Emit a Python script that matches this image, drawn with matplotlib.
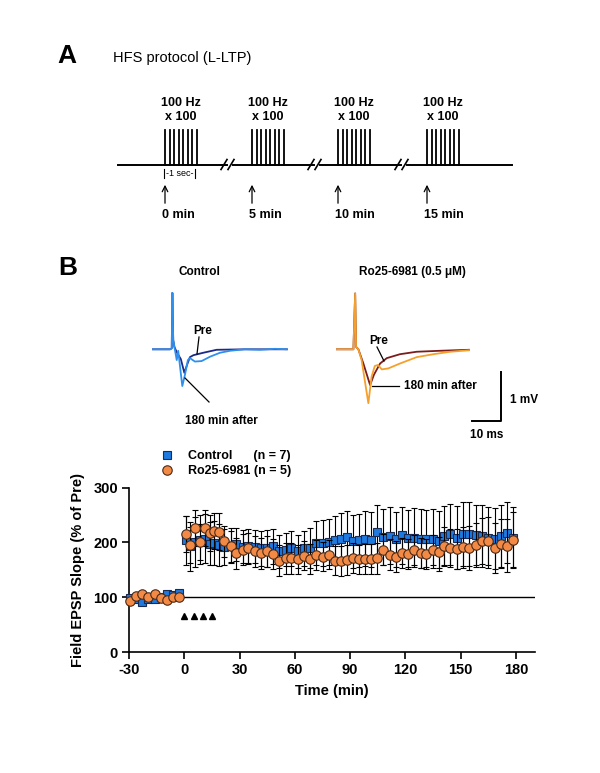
import matplotlib
matplotlib.use("Agg")
import matplotlib.pyplot as plt

plt.rcParams['font.family'] = ['Liberation Sans', 'DejaVu Sans']
plt.rcParams['axes.unicode_minus'] = False

W, H = 600, 773

# ---------------- data: field EPSP slope ----------------
time_pre = [-29.4, -26.2, -22.9, -19.5, -16.1, -12.6, -9.4, -6.0, -2.7]
ctrl_pre = [98, 96, 92, 96, 97, 101, 106, 104, 108]
ro_pre = [93, 103, 105, 101, 105, 98, 95, 101, 101]
ctrl_pre_err = [3, 3, 3, 3, 3, 3, 3, 3, 3]
ro_pre_err = [3, 3, 3, 3, 3, 3, 3, 3, 3]

time_post = [0.9, 3.2, 6.0, 8.5, 11.2, 13.7, 16.2, 18.8, 21.7, 25.3,
             28.3, 31.6, 34.8, 38.3, 41.5, 44.8, 48.2, 51.6, 55.0, 58.0,
             61.7, 65.0, 68.2, 71.7, 75.0, 78.3, 81.6, 84.8, 88.3, 91.5,
             94.8, 98.0, 101.4, 104.7, 108.0, 111.4, 115.0, 118.0, 121.5, 124.7,
             128.2, 131.4, 134.7, 138.0, 141.0, 144.4, 148.0, 151.3, 154.7, 158.0,
             161.5, 165.0, 168.4, 171.8, 175.0, 178.5]
ctrl_post = [204, 193, 201, 205, 207, 198, 199, 195, 191, 194,
             197, 192, 193, 192, 189, 189, 193, 184, 187, 189,
             184, 189, 190, 199, 199, 201, 205, 207, 210, 202,
             204, 207, 205, 219, 210, 212, 206, 213, 208, 209,
             207, 207, 207, 203, 212, 215, 209, 215, 215, 213,
             212, 209, 207, 212, 218, 209]
ro_post = [215, 195, 227, 201, 227, 218, 221, 220, 202, 193,
           180, 187, 189, 184, 180, 184, 179, 167, 171, 171,
           169, 176, 170, 177, 174, 178, 167, 166, 168, 172,
           169, 170, 170, 171, 187, 178, 174, 181, 179, 186,
           181, 179, 186, 182, 193, 190, 188, 191, 190, 196,
           203, 202, 190, 198, 194, 205]
ctrl_post_err = [45, 45, 45, 45, 45, 40, 40, 38, 33, 32,
                 30, 30, 31, 30, 32, 33, 32, 30, 30, 32,
                 30, 32, 36, 40, 42, 42, 44, 46, 48, 48,
                 48, 50, 50, 50, 52, 52, 50, 52, 52, 54,
                 54, 52, 54, 55, 55, 56, 58, 58, 58, 55,
                 56, 56, 56, 56, 56, 56]
ro_post_err = [33, 33, 33, 33, 33, 33, 33, 33, 28, 28,
               28, 28, 28, 28, 28, 28, 28, 28, 28, 28,
               27, 27, 27, 27, 27, 27, 27, 27, 27, 27,
               27, 27, 28, 28, 28, 28, 28, 28, 28, 28,
               28, 28, 28, 28, 35, 35, 36, 38, 40, 40,
               42, 44, 45, 45, 48, 50]
hfs_times = [0, 5, 10, 15]
hfs_marker_level = 66

xticks = [-30, 0, 30, 60, 90, 120, 150, 180]
yticks = [0, 100, 200, 300]

# ---------------- data: example traces (ms, mV) ----------------
ctrl_post_t = [0, 5.8, 6.4, 6.6, 6.9, 7.3, 8.1, 8.6, 10.0, 10.9, 11.9, 12.6, 14.3,
               16.6, 19.5, 22.9, 26.3, 31.4, 36.5, 41.6, 45.7]
ctrl_post_v = [0, 0, 0.02, 1.15, 0.19, 0.05, -0.22, -0.03, -0.75, -0.52, -0.22, -0.18, -0.25,
               -0.24, -0.15, -0.07, -0.03, 0.0, -0.01, 0.01, 0.0]
ctrl_pre_t = [0, 5.8, 6.4, 6.6, 6.9, 7.3, 8.1, 9.5, 10.7, 11.6, 12.6, 13.8, 17.2, 21.7,
              31.4, 45.7]
ctrl_pre_v = [0, 0, 0.02, 1.15, 0.19, 0.05, -0.06, -0.2, -0.48, -0.32, -0.16, -0.12, -0.07,
              -0.01, 0.0, 0.0]
ro_post_t = [0, 5.6, 6.2, 6.5, 7.3, 8.4, 10.7, 11.8, 12.9, 14.0, 15.3, 17.5, 21.5, 27.2,
             32.9, 38.6, 45.0]
ro_post_v = [0, 0, 1.14, 0.05, 0.0, -0.22, -1.1, -0.56, -0.34, -0.32, -0.41, -0.39, -0.29,
             -0.16, -0.1, -0.05, -0.02]
ro_pre_t = [0, 5.6, 6.2, 6.5, 7.3, 9.0, 11.3, 12.6, 14.7, 17.0, 21.5, 27.2, 35.2, 45.0]
ro_pre_v = [0, 0, 1.14, 0.05, 0.0, -0.29, -0.73, -0.52, -0.29, -0.18, -0.1, -0.05, -0.03, -0.01]

blue_fill = '#1f7ae0'
orange_fill = '#f28a45'

fig = plt.figure(figsize=(W / 100, H / 100), dpi=100)

# ---------------- main plot ----------------
ax = fig.add_axes([129 / W, 1 - 652 / H, (534.5 - 129) / W, (652 - 487.7) / H])
ax.set_xlim(-30, 190)
ax.set_ylim(0, 300)
ax.hlines(100, -30, 190, color='black', lw=1.0, zorder=1)

ctrl_t = time_pre + time_post
ctrl_y = ctrl_pre + ctrl_post
ctrl_e = ctrl_pre_err + ctrl_post_err
ro_y = ro_pre + ro_post
ro_e = ro_pre_err + ro_post_err

ax.errorbar(ctrl_t, ctrl_y, yerr=ctrl_e, fmt='s', ms=6.3, mfc=blue_fill, mec='#1a2a50',
            mew=0.8, ecolor='black', elinewidth=0.8, capsize=2.5, capthick=0.8,
            zorder=3, clip_on=False, label='Control      (n = 7)')
ax.errorbar(ctrl_t, ro_y, yerr=ro_e, fmt='o', ms=6.8, mfc=orange_fill, mec='#4a2a1a',
            mew=0.8, ecolor='black', elinewidth=0.8, capsize=2.5, capthick=0.8,
            zorder=4, clip_on=False, label='Ro25-6981 (n = 5)')
ax.plot(hfs_times, [hfs_marker_level] * len(hfs_times), '^', color='black', ms=3.8,
        linestyle='none', zorder=5)

ax.set_xticks(xticks)
ax.set_yticks(yticks)
for s in ['top', 'right']:
    ax.spines[s].set_visible(False)
for s in ['left', 'bottom']:
    ax.spines[s].set_linewidth(1.2)
ax.tick_params(direction='out', length=5, width=1.2, labelsize=10.5, pad=3)
for lab in ax.get_xticklabels() + ax.get_yticklabels():
    lab.set_fontweight('bold')
ax.set_xlabel('Time (min)', fontsize=10.5, fontweight='bold', labelpad=5)
ax.set_ylabel('Field EPSP Slope (% of Pre)', fontsize=10.5, fontweight='bold', labelpad=6)

handles, labels = ax.get_legend_handles_labels()
handles = [h[0] for h in handles]
leg = fig.legend(handles, labels, loc='upper left',
                 bbox_to_anchor=(161 / W, 1 - 450 / H), frameon=False,
                 prop={'weight': 'bold', 'size': 9}, handletextpad=1.2,
                 labelspacing=0.25, handlelength=1.0, borderaxespad=0, borderpad=0)

# ---------------- example traces ----------------
PX_MS = 2.93
PX_MV = 49.0
BASE = 349.3


def trace_axes(x0, tmax, vmin, vmax):
    left = x0
    width = tmax * PX_MS
    top = BASE - vmax * PX_MV
    height = (vmax - vmin) * PX_MV
    a = fig.add_axes([left / W, 1 - (top + height) / H, width / W, height / H])
    a.set_xlim(0, tmax)
    a.set_ylim(vmin, vmax)
    a.axis('off')
    return a


axc = trace_axes(153, 46, -1.3, 1.3)
axc.plot(ctrl_pre_t, ctrl_pre_v, color='#1c2a86', lw=1.3, clip_on=False)
axc.plot(ctrl_post_t, ctrl_post_v, color='#2e90ee', lw=1.3, clip_on=False)

axr = trace_axes(337, 62, -1.6, 1.3)
axr.plot(ro_pre_t, ro_pre_v, color='#7a1c1c', lw=1.3, clip_on=False)
axr.plot(ro_post_t, ro_post_v, color='#f5a02a', lw=1.3, clip_on=False)
# scale bar: 1 mV, 10 ms
axr.plot([46, 56, 56], [-1.46, -1.46, -0.46], color='black', lw=1.4, clip_on=False)

# ---------------- overlay for schematic & annotations ----------------
ov = fig.add_axes([0, 0, 1, 1])
ov.set_xlim(0, W)
ov.set_ylim(H, 0)
ov.axis('off')

ov.text(57, 56, 'A', fontsize=19, fontweight='bold', va='center', ha='left')
ov.text(113, 58, 'HFS protocol (L-LTP)', fontsize=10.5, va='center', ha='left')

# baseline with break marks
base_y = 164.5
segs = [(118, 227), (233, 314), (320, 401), (407, 512)]
for a0, a1 in segs:
    ov.plot([a0, a1], [base_y, base_y], color='black', lw=1.4)
for bx in [224, 311, 398]:
    for dx in [0, 7]:
        ov.plot([bx + dx - 3, bx + dx + 3], [base_y + 5, base_y - 5], color='black', lw=1.2)

group_starts = [165, 252, 338, 427]
labels_min = ['0 min', '5 min', '10 min', '15 min']
for gx, lbl in zip(group_starts, labels_min):
    for k in range(8):
        xx = gx + k * 4.5
        ov.plot([xx, xx], [base_y, 129.5], color='black', lw=1.3)
    cx = gx + 16
    ov.text(cx, 103, '100 Hz', fontsize=9, fontweight='bold', ha='center', va='center')
    ov.text(cx, 117, 'x 100', fontsize=9, fontweight='bold', ha='center', va='center')
    ov.annotate('', xy=(gx, 182), xytext=(gx, 206),
                arrowprops=dict(arrowstyle='->', color='black', lw=0.9))
    ov.text(gx - 3, 215, lbl, fontsize=9, fontweight='bold', ha='left', va='center')

ov.plot([164, 164], [168.5, 178], color='black', lw=0.8)
ov.plot([195, 195], [168.5, 178], color='black', lw=0.8)
ov.text(179.5, 173.5, '-1 sec-', fontsize=6.5, ha='center', va='center')

ov.text(58, 268, 'B', fontsize=19, fontweight='bold', va='center', ha='left')
ov.text(199, 272, 'Control', fontsize=8.5, fontweight='bold', ha='center', va='center')
ov.text(412, 272, 'Ro25-6981 (0.5 \u03bcM)', fontsize=8.5, fontweight='bold',
        ha='center', va='center')

ov.text(203, 331, 'Pre', fontsize=8.5, fontweight='bold', ha='center', va='center')
ov.plot([199, 197], [337, 354], color='black', lw=0.9)
ov.text(221, 421, '180 min after', fontsize=8.5, fontweight='bold', ha='center', va='center')
ov.plot([185, 209], [378, 402], color='black', lw=0.9)

ov.text(379, 341, 'Pre', fontsize=8.5, fontweight='bold', ha='center', va='center')
ov.plot([377, 384], [347, 361], color='black', lw=0.9)
ov.text(440, 386, '180 min after', fontsize=8.5, fontweight='bold', ha='center', va='center')
ov.plot([372, 399], [386, 386], color='black', lw=0.9)

ov.text(510, 400, '1 mV', fontsize=8.5, fontweight='bold', ha='left', va='center')
ov.text(487, 435, '10 ms', fontsize=8.5, fontweight='bold', ha='center', va='center')

fig.savefig('out.png', dpi=100)
